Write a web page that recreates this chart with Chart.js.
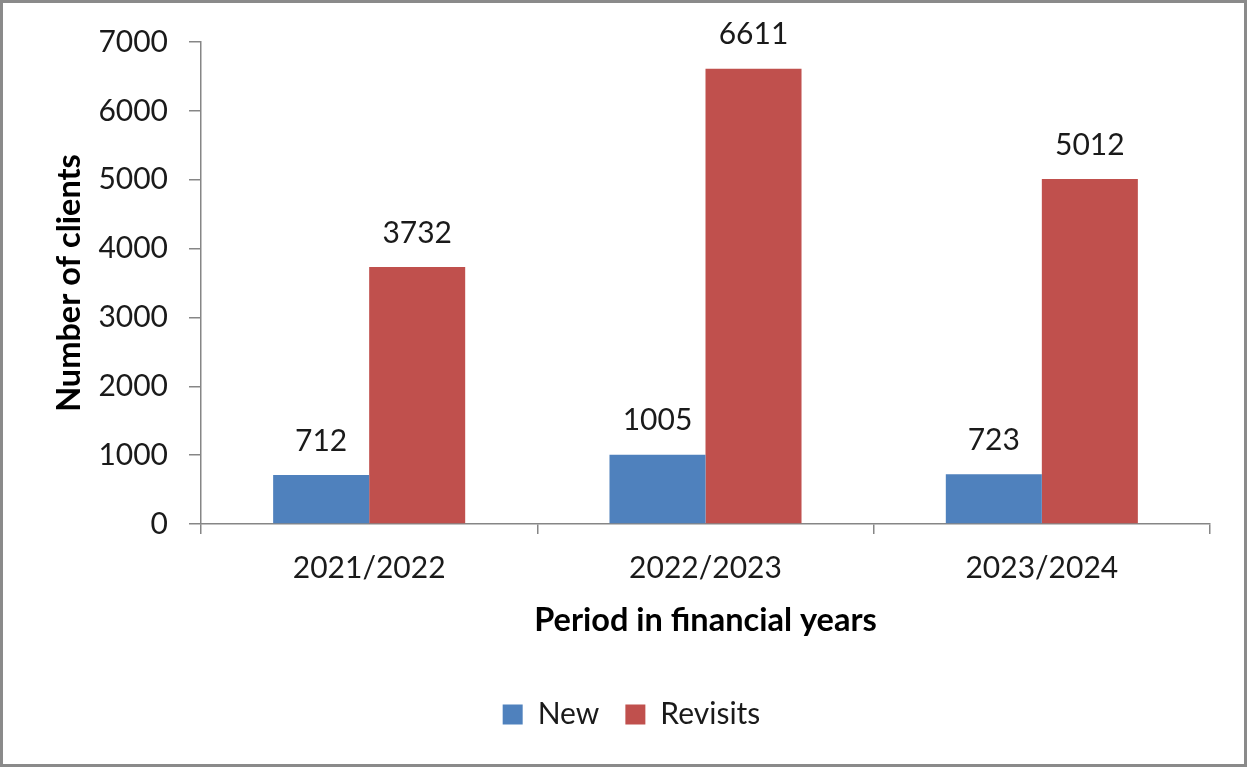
<!DOCTYPE html>
<html>
<head>
<meta charset="utf-8">
<script src="https://cdn.jsdelivr.net/npm/chart.js@4.4.0/dist/chart.umd.min.js"></script>
<style>
  html, body { margin: 0; padding: 0; background: #fff; }
  #wrap {
    width: 1247px; height: 767px; box-sizing: border-box;
    border: 3px solid #8a8a8a; background: #fff;
  }
  #wrap canvas { display: block; }
</style>
</head>
<body>
<div id="wrap"><canvas id="myChart" width="1241" height="761"></canvas></div>
<script>
const periods = ['2021/2022', '2022/2023', '2023/2024'];
const newClients = [712, 1005, 723];
const revisits = [3732, 6611, 5012];
const yTicks = [0, 1000, 2000, 3000, 4000, 5000, 6000, 7000];

const FONT = 'Lato, "Open Sans", sans-serif';
const TEXT = '#1a1a1a';
const AXIS = '#868686';

// writes each bar's value a little above its top
const barValues = {
  id: 'barValues',
  afterDatasetsDraw(chart) {
    const ctx = chart.ctx;
    ctx.save();
    ctx.font = '30px ' + FONT;
    ctx.fillStyle = TEXT;
    ctx.textAlign = 'center';
    ctx.textBaseline = 'middle';
    chart.data.datasets.forEach((ds, i) => {
      chart.getDatasetMeta(i).data.forEach((bar, j) => {
        ctx.fillText(String(ds.data[j]), bar.x, bar.y - 34);
      });
    });
    ctx.restore();
  }
};

// nudges the legend a bit to the right
const legendShift = {
  id: 'legendShift',
  afterLayout(chart) {
    chart.legend.left += 25;
    chart.legend.right += 25;
  }
};

let chart = new Chart(document.getElementById('myChart'), {
  type: 'bar',
  data: {
    labels: periods,
    datasets: [
      { label: 'New', data: newClients, backgroundColor: '#4F81BD', borderWidth: 0 },
      { label: 'Revisits', data: revisits, backgroundColor: '#C0504D', borderWidth: 0 }
    ]
  },
  options: {
    responsive: false,
    animation: false,
    events: [],
    layout: { padding: { top: 38, right: 34, left: 0, bottom: 24.5 } },
    datasets: { bar: { categoryPercentage: 0.571, barPercentage: 1 } },
    plugins: {
      tooltip: { enabled: false },
      legend: {
        position: 'bottom',
        labels: {
          font: { family: FONT, size: 30 },
          color: TEXT,
          boxWidth: 20,
          boxHeight: 20,
          padding: 26
        }
      }
    },
    scales: {
      x: {
        offset: true,
        grid: { offset: true, drawOnChartArea: false, tickLength: 10, color: AXIS, tickColor: AXIS, lineWidth: 1.5 },
        border: { color: AXIS, width: 1.5 },
        ticks: { font: { family: FONT, size: 30 }, color: TEXT, padding: 16 },
        title: {
          display: true,
          text: 'Period in financial years',
          font: { family: FONT, size: 32.5, weight: 'bold' },
          color: '#000',
          padding: { top: 0, bottom: 33 }
        },
        afterFit(scale) { scale.height = 149.5; }
      },
      y: {
        min: 0,
        max: 7000,
        afterBuildTicks(scale) { scale.ticks = yTicks.map(v => ({ value: v })); },
        grid: { drawOnChartArea: false, tickLength: 12, color: AXIS, tickColor: AXIS, lineWidth: 1.5 },
        border: { color: AXIS, width: 1.5 },
        ticks: { font: { family: FONT, size: 30 }, color: TEXT, padding: 21, callback: v => String(v) },
        title: {
          display: true,
          text: 'Number of clients',
          font: { family: FONT, size: 32.5, weight: 'bold' },
          color: '#000',
          padding: { top: 47, bottom: 0 }
        },
        afterFit(scale) { scale.width = 198; }
      }
    }
  },
  plugins: [barValues, legendShift]
});
</script>
</body>
</html>
